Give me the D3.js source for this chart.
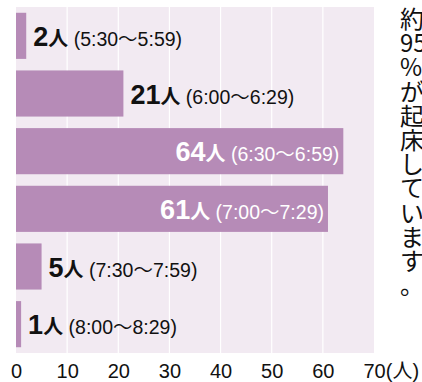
<!DOCTYPE html>
<html lang="ja">
<head>
<meta charset="utf-8">
<script src="https://cdn.jsdelivr.net/npm/d3@7"></script>
<style>
  html, body { margin: 0; padding: 0; background: #ffffff; }
  svg { display: block; font-family: "Liberation Sans", Arial, "Noto Sans CJK JP", sans-serif; }
</style>
</head>
<body>
<svg id="chart" width="422" height="382"></svg>
<script>
// Wake-up time slots and the number of people in each
const timeSlots = ["5:30〜5:59", "6:00〜6:29", "6:30〜6:59", "7:00〜7:29", "7:30〜7:59", "8:00〜8:29"];
const peopleCounts = [2, 21, 64, 61, 5, 1];
const xTickValues = [0, 10, 20, 30, 40, 50, 60, 70];
const unitLabel = "人";
const axisUnitLabel = "(人)";
const noteLines = ["約", "95", "%", "が", "起", "床", "し", "て", "い", "ま", "す", "。"];

const data = timeSlots.map((slot, i) => ({ slot, value: peopleCounts[i] }));

const svg = d3.select("#chart");
const plot = { left: 16, right: 374, top: 7, bottom: 353 };

const x = d3.scaleLinear().domain([0, 70]).range([plot.left, plot.right]);
const y = d3.scaleBand().domain(timeSlots).range([plot.top, plot.bottom])
  .paddingInner(0.2).paddingOuter(0.1);

const barColor = "#b68bb7";
const panelColor = "#f2eaf2";

// panel background
svg.append("rect")
  .attr("x", x(0)).attr("y", plot.top)
  .attr("width", x(70) - x(0)).attr("height", plot.bottom - plot.top)
  .attr("fill", panelColor);

// vertical gridlines
svg.append("g").selectAll("line")
  .data(xTickValues.filter(v => v > 0 && v < 70))
  .join("line")
  .attr("x1", d => x(d)).attr("x2", d => x(d))
  .attr("y1", plot.top).attr("y2", plot.bottom)
  .attr("stroke", "#ffffff").attr("stroke-width", 1.2);

// bars
svg.append("g").selectAll("rect")
  .data(data)
  .join("rect")
  .attr("x", x(0))
  .attr("y", d => y(d.slot))
  .attr("width", d => x(d.value) - x(0))
  .attr("height", y.bandwidth())
  .attr("fill", barColor);

// value labels: inside long bars, outside short ones
const labels = svg.append("g").selectAll("text")
  .data(data)
  .join("text")
  .attr("y", d => y(d.slot) + y.bandwidth() / 2 + 10)
  .attr("x", d => d.value >= 40 ? x(d.value) - 4 : x(d.value) + 7)
  .attr("text-anchor", d => d.value >= 40 ? "end" : "start")
  .attr("fill", d => d.value >= 40 ? "#ffffff" : "#111111");

labels.append("tspan")
  .attr("font-size", 27).attr("font-weight", 700)
  .text(d => d.value);
labels.append("tspan")
  .attr("font-size", 20).attr("font-weight", 700)
  .attr("font-family", "'Noto Sans CJK JP', sans-serif")
  .text(unitLabel);
labels.append("tspan")
  .attr("font-size", 19.5).attr("font-weight", 400)
  .text(d => " (" + d.slot + ")");

// x axis
const axis = svg.append("g")
  .attr("transform", `translate(0,${plot.bottom})`)
  .call(d3.axisBottom(x).tickValues(xTickValues).tickSize(0).tickPadding(11));
axis.select(".domain").remove();
axis.selectAll("text")
  .attr("font-size", 20)
  .attr("font-family", "'Liberation Sans', Arial, sans-serif")
  .attr("fill", "#111111");
axis.selectAll(".tick").filter(d => d === 70).select("text")
  .attr("text-anchor", "start")
  .attr("x", -11)
  .append("tspan")
  .attr("font-family", "'Liberation Sans', 'Noto Sans CJK JP', sans-serif")
  .text(axisUnitLabel);

// vertical note on the right, one character per row
svg.append("g").selectAll("text")
  .data(noteLines)
  .join("text")
  .attr("x", 400)
  .attr("y", (d, i) => 28 + i * 24.2)
  .attr("font-size", 24)
  .attr("font-family", "'Noto Sans CJK JP', 'Liberation Sans', sans-serif")
  .attr("fill", "#111111")
  .text(d => d);
</script>
</body>
</html>
